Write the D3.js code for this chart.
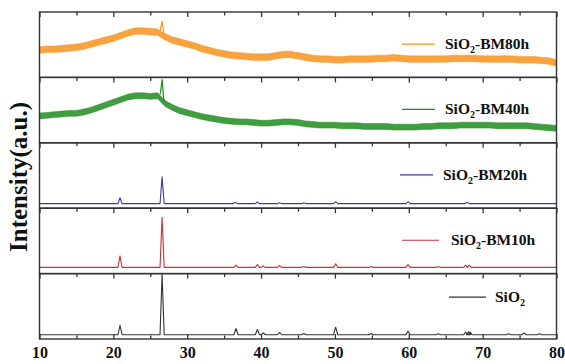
<!DOCTYPE html>
<html>
<head>
<meta charset="utf-8">
<script src="https://cdn.jsdelivr.net/npm/d3@7"></script>
<style>
  body { margin: 0; background: #fff; }
  text { font-family: "Liberation Serif", "Times New Roman", serif; font-weight: bold; fill: #111; }
</style>
</head>
<body>
<svg id="chart" width="565" height="364"></svg>
<script>
// ---- data (relative intensity, 0 = panel bottom, 100 = panel top) ----
const sampleNames = ["BM80h", "BM40h", "BM20h", "BM10h", ""];
const sampleColors = ["#f7931e", "#1f8c1f", "#3b3b9c", "#c8323c", "#333333"];

const angleGrid = d3.range(10, 81); // 2-theta every 1 degree
const xTicksMajor = [10, 20, 30, 40, 50, 60, 70, 80];
const xTicksMinor = [15, 25, 35, 45, 55, 65, 75];

// amorphous traces: mean level read at each degree + noise half width
const bm80Mean = [42,43,43,44,45,46,48,51,54,57,
                  60,64,68,71,71,70,69,62,57,54,
                  51,48,44,41,38,36,34,33,32,31,
                  31,31,33,35,35,33,31,29,28,28,
                  27,27,28,28,28,28,29,29,30,29,
                  28,28,28,28,28,28,29,29,29,29,
                  28,28,28,28,28,27,27,27,26,25,
                  22];
const bm40Mean = [41,42,43,44,45,45,47,50,54,58,
                  62,66,70,72,72,71,72,60,54,49,
                  46,43,40,38,36,34,33,32,32,31,
                  30,30,31,32,32,31,29,28,27,27,
                  27,26,26,26,25,25,25,25,24,24,
                  24,24,25,25,26,26,26,27,27,27,
                  27,27,26,26,26,26,26,25,24,23,
                  22];
const bm80Noise = 5;
const bm40Noise = 4.5;
const bm80Spike = [26.6, 86];
const bm40Spike = [26.6, 97];

// crystalline traces: baseline + [position, height]
const bm20Base = 7;
const bm20Peaks = [[20.9,16],[26.6,48],[36.5,9],[39.5,9.5],[42.5,8.5],[45.8,8.5],[50.1,10],[59.9,10],[67.9,9]];
const bm10Base = 9.5;
const bm10Peaks = [[20.9,27],[26.6,86],[36.6,13],[39.5,14],[40.3,11.5],[42.5,12.5],[45.8,11],[50.1,15],[54.9,11],[59.9,14],[64,11],[67.7,13],[68.2,13]];
const sio2Base = 6.5;
const sio2Peaks = [[20.9,21],[26.6,99],[36.6,16],[39.5,14.5],[40.3,9.5],[42.5,10],[45.8,8.5],[50.1,18],[54.9,8.5],[59.9,12],[64,8],[67.7,10.5],[68.1,11],[68.3,10.5],[73.5,8],[75.6,9.5],[77.7,8]];

// ---- layout ----
const svg = d3.select("#chart");
const TOP = 12, BOTTOM = 339, N = 5;
const PH = (BOTTOM - TOP) / N;
const x = d3.scaleLinear().domain([10, 80]).range([39.5, 556.5]);

const legendLineX = [402, 402, 400, 402, 449];
const legendTextX = [445, 445, 443, 451, 495];
const legendYFrac = [0.49, 0.49, 0.49, 0.49, 0.36];

function peakPoints(base, peaks, w) {
  const pts = [[10, base]];
  peaks.forEach(([p, h]) => {
    pts.push([p - w, base], [p, h], [p + w, base]);
  });
  pts.push([80, base]);
  return pts;
}

for (let i = 0; i < N; i++) {
  const top = TOP + i * PH;
  const y = d3.scaleLinear().domain([0, 100]).range([top + PH, top]);
  const g = svg.append("g");
  const color = sampleColors[i];

  // traces
  if (i < 2) {
    const mean = i === 0 ? bm80Mean : bm40Mean;
    const noise = i === 0 ? bm80Noise : bm40Noise;
    const spike = i === 0 ? bm80Spike : bm40Spike;
    const area = d3.area()
      .x((d, k) => x(angleGrid[k]))
      .y0(d => y(d - noise))
      .y1(d => y(d + noise));
    g.append("path")
      .attr("d", area(mean))
      .attr("fill", color)
      .attr("fill-opacity", 0.85)
      .attr("stroke", color)
      .attr("stroke-opacity", 0.6)
      .attr("stroke-width", 0.8);
    const k = angleGrid.indexOf(Math.floor(spike[0]));
    const spikePts = [[spike[0] - 0.25, mean[k] + noise * 0.5], spike, [spike[0] + 0.25, mean[k + 1] + noise * 0.5]];
    g.append("path")
      .attr("d", d3.line().x(d => x(d[0])).y(d => y(d[1]))(spikePts))
      .attr("fill", "none")
      .attr("stroke", color)
      .attr("stroke-width", 1.2);
  } else {
    const base = [bm20Base, bm10Base, sio2Base][i - 2];
    const peaks = [bm20Peaks, bm10Peaks, sio2Peaks][i - 2];
    g.append("path")
      .attr("d", d3.line().x(d => x(d[0])).y(d => y(d[1]))(peakPoints(base, peaks, 0.28)))
      .attr("fill", "none")
      .attr("stroke", color)
      .attr("stroke-width", 1.1)
      .attr("stroke-linejoin", "round");
  }

  // ticks on top of every panel, pointing inward
  g.append("g")
    .attr("transform", `translate(0,${top})`)
    .call(d3.axisTop(x).tickValues(xTicksMajor).tickSize(-5).tickFormat(""))
    .call(a => a.select(".domain").remove())
    .selectAll("line").attr("stroke", "#333").attr("stroke-width", 1.3);
  g.append("g")
    .attr("transform", `translate(0,${top})`)
    .call(d3.axisTop(x).tickValues(xTicksMinor).tickSize(-3.5).tickFormat(""))
    .call(a => a.select(".domain").remove())
    .selectAll("line").attr("stroke", "#333").attr("stroke-width", 1.3);

  // frame
  g.append("rect")
    .attr("x", x(10)).attr("y", top)
    .attr("width", x(80) - x(10)).attr("height", PH)
    .attr("fill", "none").attr("stroke", "#333").attr("stroke-width", 1.4);

  // legend
  const ly = top + PH * legendYFrac[i];
  g.append("line")
    .attr("x1", legendLineX[i]).attr("x2", legendLineX[i] + (i < 3 ? 33 : 37))
    .attr("y1", ly).attr("y2", ly)
    .attr("stroke", color).attr("stroke-width", 1.2);
  const t = g.append("text")
    .attr("x", legendTextX[i]).attr("y", ly + 5)
    .attr("font-size", 15.5);
  t.append("tspan").text("SiO");
  t.append("tspan").attr("font-size", 10).attr("dy", 4).text("2");
  if (sampleNames[i]) t.append("tspan").attr("dy", -4).text("-" + sampleNames[i]);
}

// bottom axis
const xb = svg.append("g")
  .attr("transform", `translate(0,${BOTTOM})`)
  .call(d3.axisBottom(x).tickValues(xTicksMajor).tickSize(-5).tickPadding(8).tickFormat(d3.format("d")));
xb.select(".domain").remove();
xb.selectAll("line").attr("stroke", "#333").attr("stroke-width", 1.3);
xb.selectAll("text")
  .attr("font-size", 16)
  .style("font-family", '"Liberation Serif", serif')
  .style("font-weight", "bold")
  .attr("fill", "#111");
svg.append("g")
  .attr("transform", `translate(0,${BOTTOM})`)
  .call(d3.axisBottom(x).tickValues(xTicksMinor).tickSize(-3.5).tickFormat(""))
  .call(a => a.select(".domain").remove())
  .selectAll("line").attr("stroke", "#333").attr("stroke-width", 1.3);

// y title
svg.append("text")
  .attr("transform", `translate(27,${177}) rotate(-90)`)
  .attr("text-anchor", "middle")
  .attr("font-size", 25)
  .text("Intensity(a.u.)");
</script>
</body>
</html>
